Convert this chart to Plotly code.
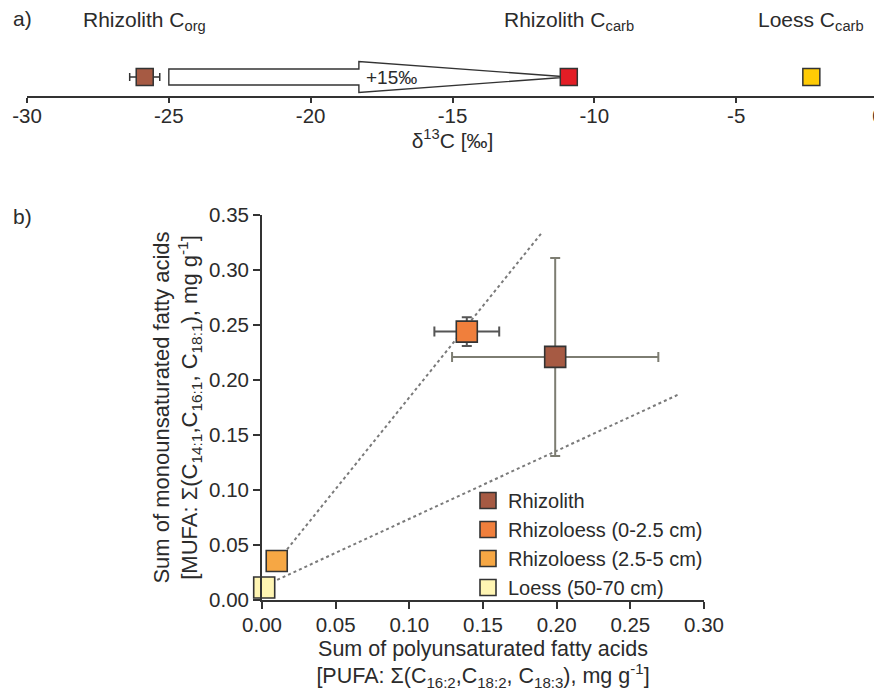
import plotly.graph_objects as go

# The page places the figure 8 px from the window's top-left corner,
# so the figure is sized to fill the rest of the 882x691 window.
OFF = 8
W, H = 882 - OFF, 691 - OFF


def px(x):  # window x (px) -> paper x
    return (x - OFF) / W


def py(y):  # window y (px) -> paper y
    return 1 - (y - OFF) / H


# ---------- data: panel a (delta13C, permil) ----------
a_labels = ["Rhizolith C<sub>org</sub>", "Rhizolith C<sub>carb</sub>", "Loess C<sub>carb</sub>"]
a_values = [-25.85, -10.9, -2.35]
a_errors = [0.53, 0.0, 0.0]
a_colors = ["#A65A43", "#E31D25", "#FFCB05"]
a_ticks = [-30, -25, -20, -15, -10, -5, 0]
a_ticktext = ["-30", "-25", "-20", "-15", "-10", "-5", "0"]
arrow_start = -25.0
arrow_head_base = -18.3
arrow_label = "+15‰"
arrow_label_x = -17.15

# ---------- data: panel b ----------
b_names = ["Rhizolith", "Rhizoloess (0-2.5 cm)", "Rhizoloess (2.5-5 cm)", "Loess (50-70 cm)"]
pufa = [0.199, 0.139, 0.010, 0.0015]
pufa_err = [0.070, 0.022, 0.0, 0.0]
mufa = [0.221, 0.244, 0.0355, 0.0113]
mufa_err = [0.090, 0.013, 0.0, 0.0]
b_colors = ["#A65A43", "#F07F3C", "#F6A744", "#FFF5B3"]
b_xticks = [0, 0.05, 0.10, 0.15, 0.20, 0.25, 0.30]
b_yticks = [0, 0.05, 0.10, 0.15, 0.20, 0.25, 0.30, 0.35]
# dotted guide lines (x, y endpoints)
guide1_x = [0.017, 0.190]
guide1_y = [0.046, 0.334]
guide2_x = [0.0066, 0.283]
guide2_y = [0.016, 0.187]

FONT = "Liberation Sans, Arial, sans-serif"
TXT = "#2b2b2b"
LINE = "#333333"

fig = go.Figure()

# ---------------- panel a ----------------
ROW_Y = 19
for lab, v, e, c in zip(a_labels, a_values, a_errors, a_colors):
    fig.add_trace(go.Scatter(
        x=[v], y=[ROW_Y], mode="markers", xaxis="x", yaxis="y", showlegend=False, cliponaxis=False,
        marker=dict(symbol="square", size=17, color=c, line=dict(color=LINE, width=1.5)),
        error_x=dict(type="data", array=[e], visible=e > 0, color=LINE, thickness=1.5, width=4),
        hoverinfo="x",
    ))

yc = ROW_Y
tip = a_values[1]
path = (f"M {arrow_start},{yc-8} L {arrow_head_base},{yc-8} L {arrow_head_base},{yc-15.5} "
        f"L {tip},{yc} L {arrow_head_base},{yc+15.5} L {arrow_head_base},{yc+8} L {arrow_start},{yc+8} Z")
fig.add_shape(type="path", path=path, xref="x", yref="y", fillcolor="white",
              line=dict(color=LINE, width=1.4), layer="below")
fig.add_annotation(x=arrow_label_x, y=yc, xref="x", yref="y", text=arrow_label, showarrow=False,
                   font=dict(size=19, color=TXT, family=FONT))

for lab, v in zip(a_labels, a_values):
    fig.add_annotation(x=v, y=py(21), xref="x", yref="paper", text=lab, showarrow=False,
                       yanchor="middle", font=dict(size=21, color=TXT, family=FONT))
fig.add_annotation(x=px(11), y=py(19), xref="paper", yref="paper", text="a)", showarrow=False,
                   xanchor="left", yanchor="middle", font=dict(size=21, color=TXT, family=FONT))
fig.add_annotation(x=px(11), y=py(216), xref="paper", yref="paper", text="b)", showarrow=False,
                   xanchor="left", yanchor="middle", font=dict(size=21, color=TXT, family=FONT))

# ---------------- panel b ----------------
fig.add_trace(go.Scatter(x=guide1_x, y=guide1_y, mode="lines", xaxis="x2", yaxis="y2", showlegend=False,
                         line=dict(color="#7a7a7a", width=2, dash="dot"), hoverinfo="skip"))
fig.add_trace(go.Scatter(x=guide2_x, y=guide2_y, mode="lines", xaxis="x2", yaxis="y2", showlegend=False,
                         line=dict(color="#7a7a7a", width=2, dash="dot"), hoverinfo="skip"))

for n, x, xe, y, ye, c in zip(b_names, pufa, pufa_err, mufa, mufa_err, b_colors):
    ecol = "#7d7d72" if n == "Rhizolith" else "#555555"
    fig.add_trace(go.Scatter(
        x=[x], y=[y], name=n, mode="markers", xaxis="x2", yaxis="y2", cliponaxis=False,
        marker=dict(symbol="square", size=21, color=c, line=dict(color=LINE, width=1.6)),
        error_x=dict(type="data", array=[xe], visible=xe > 0, color=ecol, thickness=2, width=5),
        error_y=dict(type="data", array=[ye], visible=ye > 0, color=ecol, thickness=2, width=5),
    ))

axis_common = dict(ticks="outside", tickwidth=1.5, tickcolor=LINE,
                   showline=True, linecolor=LINE, linewidth=1.8, showgrid=False, zeroline=False,
                   tickfont=dict(size=20.5, color=TXT), automargin=False,
                   ticklabeloverflow="allow")

fig.update_layout(
    width=W, height=H,
    margin=dict(l=0, r=0, t=0, b=0, autoexpand=False),
    paper_bgcolor="white", plot_bgcolor="white",
    font=dict(family=FONT, size=20, color=TXT),
    xaxis=dict(domain=[px(27), px(878)], range=[-30, 0], anchor="y",
               tickvals=a_ticks, ticktext=a_ticktext, ticklen=5, ticklabelstandoff=-5,
               title=dict(text="δ<sup>13</sup>C [‰]", font=dict(size=21, color=TXT), standoff=1),
               **axis_common),
    yaxis=dict(domain=[py(96), py(40)], range=[0, 56], visible=False, anchor="x", automargin=False),
    xaxis2=dict(domain=[px(262), px(704)], range=[0, 0.30], anchor="y2",
                tickvals=b_xticks, tickformat=".2f", ticklen=7, ticklabelstandoff=-2,
                title=dict(text="Sum of polyunsaturated fatty acids<br>[PUFA: Σ(C<sub>16:2</sub>,C<sub>18:2</sub>, C<sub>18:3</sub>), mg g<sup>-1</sup>]",
                           font=dict(size=21.5, color=TXT), standoff=9),
                **axis_common),
    yaxis2=dict(domain=[py(600), py(215)], range=[0, 0.35], anchor="x2",
                tickvals=b_yticks, tickformat=".2f", ticklen=7,
                title=dict(text="Sum of monounsaturated fatty acids<br>[MUFA: Σ(C<sub>14:1</sub>,C<sub>16:1</sub>, C<sub>18:1</sub>), mg g<sup>-1</sup>]",
                           font=dict(size=22, color=TXT), standoff=5),
                **axis_common),
    legend=dict(x=px(468), y=py(481), xanchor="left", yanchor="top",
                bgcolor="rgba(0,0,0,0)", font=dict(size=20, color=TXT), tracegroupgap=0),
    showlegend=True,
)

fig.write_html("out.html")
